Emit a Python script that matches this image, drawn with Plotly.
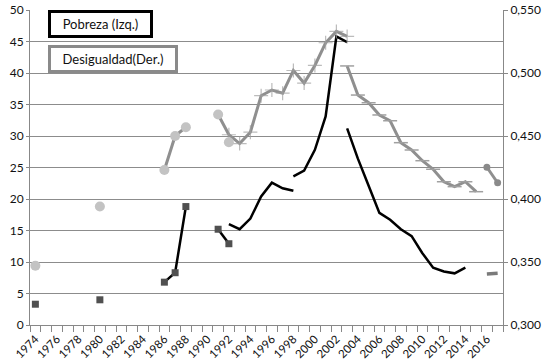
import plotly.graph_objects as go

years = list(range(1974, 2018))

def series(d):
    return [d.get(y) for y in years]

# Pobreza (left axis)
pob_squares = {1974: 3.3, 1980: 4.0, 1986: 6.8, 1987: 8.3, 1988: 18.8, 1991: 15.2, 1992: 12.9}
pob_line1 = {1992: 16.0, 1993: 15.2, 1994: 16.9, 1995: 20.4, 1996: 22.6, 1997: 21.7, 1998: 21.3}
pob_line2 = {1998: 23.6, 1999: 24.5, 2000: 27.8, 2001: 33.1, 2002: 45.8, 2003: 44.9}
pob_line3 = {2003: 31.2, 2004: 26.4, 2005: 22.1, 2006: 17.8, 2007: 16.7, 2008: 15.2, 2009: 14.1,
             2010: 11.4, 2011: 9.1, 2012: 8.5, 2013: 8.2, 2014: 9.1}
pob_line4 = {2016: 8.1, 2017: 8.2}

# Desigualdad (right axis)
des_circles = {1974: 0.347, 1980: 0.394, 1986: 0.423, 1987: 0.450, 1988: 0.457, 1991: 0.467, 1992: 0.445}
des_line1 = {1986: 0.423, 1987: 0.450, 1988: 0.457, 1991: 0.467, 1992: 0.451, 1993: 0.444, 1994: 0.453,
             1995: 0.482, 1996: 0.4865, 1997: 0.484, 1998: 0.502, 1999: 0.492, 2000: 0.506,
             2001: 0.524, 2002: 0.533, 2003: 0.529}
des_line2 = {2003: 0.5056, 2004: 0.4825, 2005: 0.4764, 2006: 0.4667, 2007: 0.4621, 2008: 0.4447,
             2009: 0.4389, 2010: 0.4304, 2011: 0.4236, 2012: 0.4137, 2013: 0.4098, 2014: 0.4137,
             2015: 0.4058}
des_line3 = {2016: 0.4252, 2017: 0.4129}

label_years = list(range(1974, 2017, 2))
left_ticks = list(range(0, 51, 5))
right_ticks = [0.30, 0.35, 0.40, 0.45, 0.50, 0.55]

FONT = "Lato"
GRAY = "#8f8f8f"

fig = go.Figure()

# Desigualdad series (right axis)
cross_sizes = [10 if (y is not None and yr >= 1992) else 0 for yr, y in zip(years, series(des_line1))]
fig.add_trace(go.Scatter(x=years, y=series(des_line1), yaxis="y2", mode="lines+markers",
                         line=dict(color=GRAY, width=3),
                         marker=dict(symbol="cross-thin", size=cross_sizes, line=dict(color="#a0a0a0", width=1.2), color="#a0a0a0")))
fig.add_trace(go.Scatter(x=years, y=series(des_line2), yaxis="y2", mode="lines+markers",
                         line=dict(color=GRAY, width=3),
                         marker=dict(symbol="line-ew", size=10, line=dict(color="#a0a0a0", width=1.5), color="#a0a0a0")))
fig.add_trace(go.Scatter(x=years, y=series(des_line3), yaxis="y2", mode="lines+markers",
                         line=dict(color=GRAY, width=3),
                         marker=dict(symbol=["circle", "diamond"], size=7, color="#8a8a8a")))
fig.add_trace(go.Scatter(x=years, y=series(des_circles), yaxis="y2", mode="markers",
                         marker=dict(symbol="circle", size=10, color="#c3c3c3")))

# Pobreza series (left axis)
fig.add_trace(go.Scatter(x=years, y=series(pob_squares), mode="lines+markers",
                         line=dict(color="black", width=2.5),
                         marker=dict(symbol="square", size=7, color="#505050")))
for d in (pob_line1, pob_line2, pob_line3):
    fig.add_trace(go.Scatter(x=years, y=series(d), mode="lines",
                             line=dict(color="black", width=2.5)))
fig.add_trace(go.Scatter(x=years, y=series(pob_line4), mode="lines",
                         line=dict(color="#7a7a7a", width=3.5)))

fig.update_layout(
    width=549, height=363,
    margin=dict(l=30, r=46, t=10, b=38, autoexpand=False),
    paper_bgcolor="white", plot_bgcolor="white",
    showlegend=False,
    separators=",.",
    font=dict(family=FONT, size=12, color="#111111"),
    xaxis=dict(
        range=[1973.5, 2017.5], tickmode="array", tickvals=label_years, automargin=False,
        ticktext=[str(y) for y in label_years], tickangle=-45, ticks="", ticklen=0,
        ticklabelstandoff=2,
        showgrid=False, showline=True, linecolor="#888888", linewidth=1,
        tickfont=dict(size=11.5, family=FONT, color="#111111"),
        minor=dict(tickmode="linear", tick0=1973.5, dtick=1, ticks="outside", ticklen=6,
                   tickcolor="#888888", showgrid=False),
        zeroline=False,
    ),
    yaxis=dict(
        range=[0, 50], tickmode="array", tickvals=left_ticks, showgrid=True, automargin=False,
        gridcolor="#8c8c8c", gridwidth=1, showline=True, linecolor="#888888",
        ticks="outside", ticklen=3, tickcolor="#888888", zeroline=False,
        tickfont=dict(size=12, family=FONT, color="#111111"),
    ),
    yaxis2=dict(
        range=[0.30, 0.55], tickmode="array", tickvals=right_ticks, tickformat=".3f", automargin=False,
        overlaying="y", side="right", showgrid=False, showline=True, linecolor="#888888",
        ticks="outside", ticklen=4, tickcolor="#888888", zeroline=False,
        tickfont=dict(size=12, family=FONT, color="#111111"),
    ),
)

fig.add_annotation(xref="paper", yref="paper", x=(48 - 30) / 473, y=1.0, xanchor="left", yanchor="top",
                   text="Pobreza (Izq.)", showarrow=False, bordercolor="black", borderwidth=3,
                   borderpad=3, width=93, align="center", bgcolor="white",
                   font=dict(size=13, family=FONT, color="#111111"))
fig.add_annotation(xref="paper", yref="paper", x=(48 - 30) / 473, y=(325 - 45) / 315, xanchor="left", yanchor="top",
                   text="Desigualdad(Der.)", showarrow=False, bordercolor="#8a8a8a", borderwidth=3,
                   borderpad=3, width=118, align="center", bgcolor="white",
                   font=dict(size=13, family=FONT, color="#111111"))

fig.write_html("out.html", config={"displayModeBar": False},
               post_script="document.body.style.margin='0';")
